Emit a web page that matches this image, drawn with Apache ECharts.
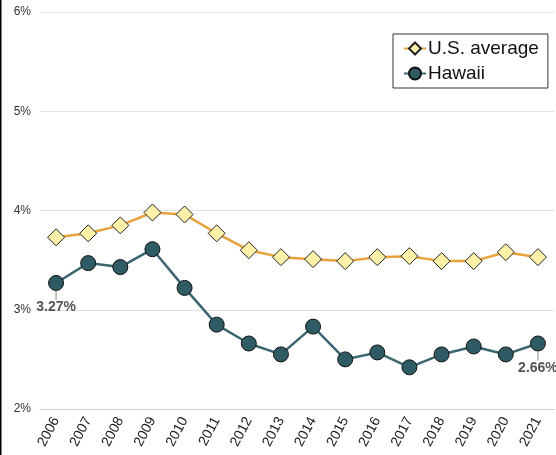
<!DOCTYPE html>
<html><head><meta charset="utf-8">
<script src="https://cdn.jsdelivr.net/npm/echarts@6/dist/echarts.min.js"></script>
<style>html,body{margin:0;padding:0;background:#fff}#c{width:556px;height:455px}</style>
</head><body><div id="c"></div>
<script>
var years = ['2006','2007','2008','2009','2010','2011','2012','2013','2014','2015','2016','2017','2018','2019','2020','2021'];
var usAverage = [3.73,3.77,3.85,3.98,3.96,3.77,3.60,3.53,3.51,3.49,3.53,3.54,3.49,3.49,3.58,3.53];
var hawaii = [3.27,3.47,3.43,3.61,3.22,2.85,2.66,2.55,2.83,2.50,2.57,2.42,2.55,2.63,2.55,2.66];
var yTicks = [2,3,4,5,6];

var chart = echarts.init(document.getElementById('c'), null, {renderer:'canvas'});
var labelStyle = {show:true, position:'bottom', distance:0, align:'center',
  formatter:function(p){return '{l|\u00a0}\n{v|'+p.value.toFixed(2)+'%}';},
  rich:{
    l:{width:1.2, height:9, lineHeight:9, fontSize:1, backgroundColor:'#999', align:'center'},
    v:{fontFamily:'Liberation Sans, Arial, sans-serif', fontSize:14, fontWeight:'bold', color:'#555', lineHeight:15, align:'center'}
  }};
var hawaiiData = hawaii.map(function(v,i){
  if(i===0||i===hawaii.length-1){
    return {value:v, label:labelStyle};
  }
  return v;
});
chart.setOption({
  animation:false,
  textStyle:{fontFamily:'Liberation Sans, Arial, sans-serif'},
  graphic:[{type:'line', shape:{x1:0.5,y1:0,x2:0.5,y2:455}, style:{stroke:'#000', lineWidth:2}}],
  grid:{left:40, right:2, top:12, bottom:46},
  legend:{
    orient:'vertical', left:393, top:34, padding:[5,9,5,10], itemGap:6,
    itemWidth:22, itemHeight:15, backgroundColor:'#fff', borderColor:'#333', borderWidth:1,
    textStyle:{fontSize:19, color:'#111', fontFamily:'Liberation Sans, Arial, sans-serif', padding:[0,0,0,-3]},
    data:['U.S. average','Hawaii']
  },
  xAxis:{type:'category', data:years, boundaryGap:true,
    axisLine:{lineStyle:{color:'#ccc'}}, axisTick:{lineStyle:{color:'#ccc'}, length:4},
    axisLabel:{rotate:62, fontSize:14, color:'#222', margin:9, interval:0}
  },
  yAxis:{type:'value', min:yTicks[0], max:yTicks[yTicks.length-1], interval:1,
    axisLine:{show:false}, axisTick:{show:false},
    axisLabel:{formatter:'{value}%', fontSize:12, color:'#333', margin:9},
    splitLine:{lineStyle:{color:'#e2e2e2'}}
  },
  series:[
    {name:'U.S. average', type:'line', data:usAverage, symbol:'diamond', symbolSize:17,
      lineStyle:{color:'#e8a23c', width:2.5},
      itemStyle:{color:'#fdf0a8', borderColor:'#222', borderWidth:1}, z:3},
    {name:'Hawaii', type:'line', data:hawaiiData, symbol:'circle', symbolSize:15,
      lineStyle:{color:'#3b6670', width:2.5},
      itemStyle:{color:'#2f5b65', borderColor:'#111', borderWidth:1}, z:4}
  ]
});
</script></body></html>
